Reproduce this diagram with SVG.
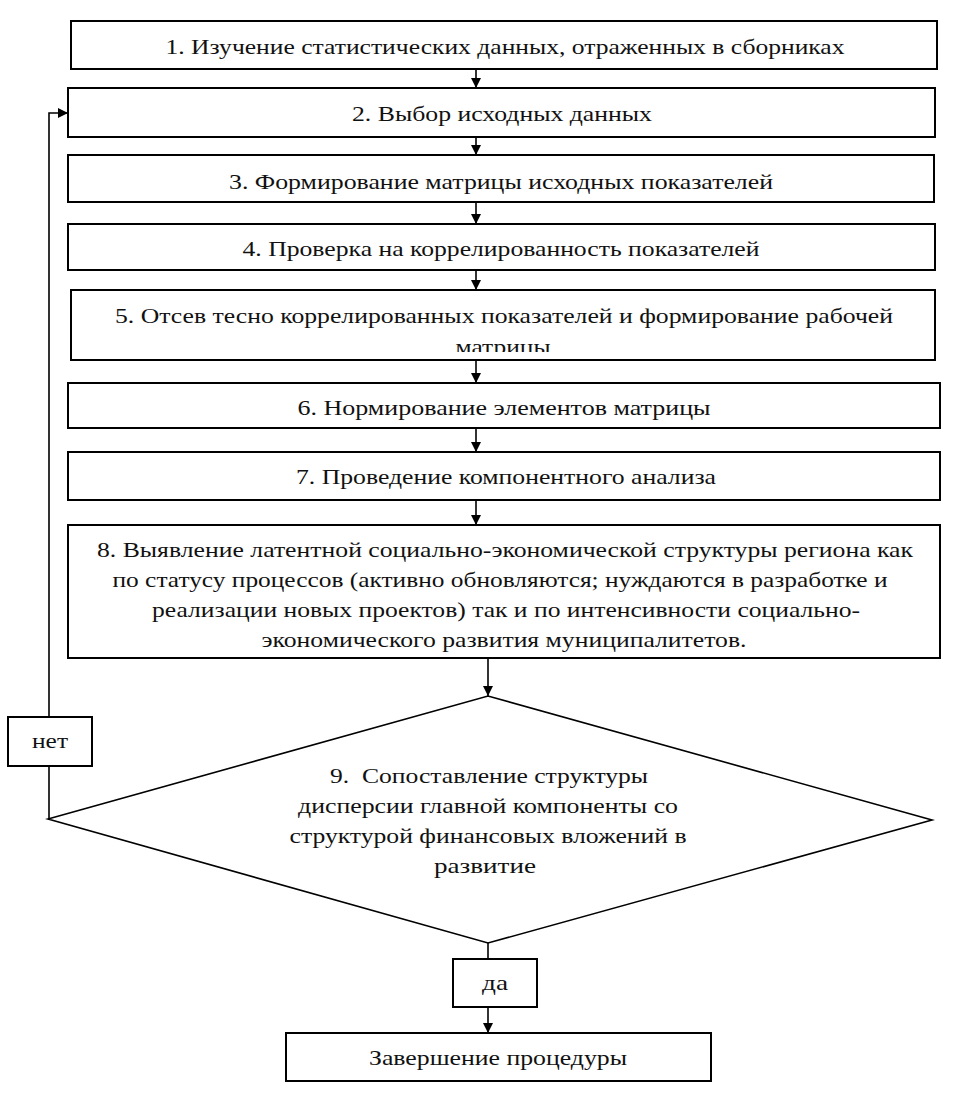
<svg xmlns="http://www.w3.org/2000/svg" width="957" height="1109" viewBox="0 0 957 1109">
<style>
.box{fill:#fff;stroke:#000;stroke-width:2}
.t{font-family:'Liberation Serif','Times New Roman',serif;font-size:22px;fill:#111;text-anchor:middle}
.ln{fill:none;stroke:#000;stroke-width:1.6}
</style>
<defs>
<marker id="ah" markerWidth="10" markerHeight="10" refX="10" refY="5" orient="auto" markerUnits="userSpaceOnUse">
<path d="M0,0 L10,5 L0,10 Z" fill="#000"/>
</marker>
<clipPath id="c5"><rect x="71" y="290" width="864" height="62"/></clipPath>
</defs>
<rect width="957" height="1109" fill="#fff"/>
<g id="connectors">
<line class="ln" x1="476" y1="69" x2="476" y2="88" marker-end="url(#ah)"/>
<line class="ln" x1="476" y1="137" x2="476" y2="155" marker-end="url(#ah)"/>
<line class="ln" x1="476" y1="202" x2="476" y2="224" marker-end="url(#ah)"/>
<line class="ln" x1="476" y1="270" x2="476" y2="290" marker-end="url(#ah)"/>
<line class="ln" x1="476" y1="360" x2="476" y2="383" marker-end="url(#ah)"/>
<line class="ln" x1="476" y1="428" x2="476" y2="452" marker-end="url(#ah)"/>
<line class="ln" x1="476" y1="500" x2="476" y2="525" marker-end="url(#ah)"/>
<line class="ln" x1="488" y1="658" x2="488" y2="696" marker-end="url(#ah)"/>
<polyline class="ln" points="48,819 49,819 49,113 68,113" marker-end="url(#ah)"/>
<line class="ln" x1="488" y1="943" x2="488" y2="959"/>
<line class="ln" x1="488" y1="1007" x2="488" y2="1033" marker-end="url(#ah)"/>
</g>
<g id="n1"><rect class="box" x="71" y="21" width="866" height="48"/><text class="t" x="505" y="54" textLength="679" lengthAdjust="spacingAndGlyphs">1. Изучение статистических данных, отраженных в сборниках</text></g>
<g id="n2"><rect class="box" x="68" y="88" width="867" height="49"/><text class="t" x="502" y="121" textLength="300" lengthAdjust="spacingAndGlyphs">2. Выбор исходных данных</text></g>
<g id="n3"><rect class="box" x="68" y="155" width="866" height="47"/><text class="t" x="501" y="189" textLength="544" lengthAdjust="spacingAndGlyphs">3. Формирование матрицы исходных показателей</text></g>
<g id="n4"><rect class="box" x="68" y="224" width="867" height="46"/><text class="t" x="501" y="256" textLength="517" lengthAdjust="spacingAndGlyphs">4. Проверка на коррелированность показателей</text></g>
<g id="n5"><rect class="box" x="71" y="290" width="864" height="70"/><g clip-path="url(#c5)"><text class="t" x="504" y="323" textLength="778" lengthAdjust="spacingAndGlyphs">5. Отсев тесно коррелированных показателей и формирование рабочей</text><text class="t" x="503" y="354" textLength="95" lengthAdjust="spacingAndGlyphs">матрицы</text></g></g>
<g id="n6"><rect class="box" x="68" y="383" width="872" height="45"/><text class="t" x="504" y="415" textLength="413" lengthAdjust="spacingAndGlyphs">6. Нормирование элементов матрицы</text></g>
<g id="n7"><rect class="box" x="68" y="452" width="872" height="48"/><text class="t" x="506" y="484" textLength="420" lengthAdjust="spacingAndGlyphs">7. Проведение компонентного анализа</text></g>
<g id="n8"><rect class="box" x="68" y="525" width="872" height="133"/>
<text class="t" x="505" y="557" textLength="816" lengthAdjust="spacingAndGlyphs">8. Выявление латентной социально-экономической структуры региона как</text>
<text class="t" x="500" y="587" textLength="775" lengthAdjust="spacingAndGlyphs">по статусу процессов (активно обновляются; нуждаются в разработке и</text>
<text class="t" x="506" y="617" textLength="708" lengthAdjust="spacingAndGlyphs">реализации новых проектов) так и по интенсивности социально-</text>
<text class="t" x="504" y="647" textLength="485" lengthAdjust="spacingAndGlyphs">экономического развития муниципалитетов.</text></g>
<g id="n9"><polygon class="ln" points="48,819 488,696 932,820 488,943" style="fill:#fff"/>
<text class="t" x="489" y="783" textLength="318" lengthAdjust="spacingAndGlyphs" xml:space="preserve">9.  Сопоставление структуры</text>
<text class="t" x="488" y="813" textLength="380" lengthAdjust="spacingAndGlyphs">дисперсии главной компоненты со</text>
<text class="t" x="488" y="843" textLength="397" lengthAdjust="spacingAndGlyphs">структурой финансовых вложений в</text>
<text class="t" x="485" y="873" textLength="102" lengthAdjust="spacingAndGlyphs">развитие</text></g>
<g id="no"><rect class="box" x="8" y="717" width="84" height="49"/><text class="t" x="50" y="748" textLength="36" lengthAdjust="spacingAndGlyphs">нет</text></g>
<g id="yes"><rect class="box" x="453" y="959" width="84" height="48"/><text class="t" x="495" y="990" textLength="26" lengthAdjust="spacingAndGlyphs">да</text></g>
<g id="end"><rect class="box" x="286" y="1033" width="425" height="48"/><text class="t" x="498" y="1065" textLength="258" lengthAdjust="spacingAndGlyphs">Завершение процедуры</text></g>
</svg>
